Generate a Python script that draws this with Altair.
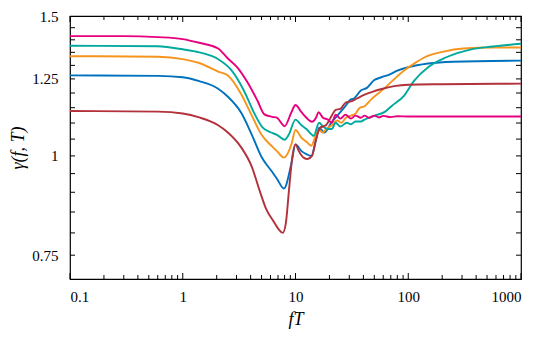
import altair as alt
import pandas as pd

# ---- data (fT, gamma) ----
fT_magenta = [0.1, 0.3, 0.6, 1.0, 1.4, 2.06, 2.5, 3.07, 3.75, 4.58, 5.3, 6.2, 6.84, 7.56, 8.0,
              9.2, 10, 11.3, 12.5, 14, 15.2, 16, 17.5, 19.4, 21, 22.7, 25, 27.8, 31, 34, 38,
              41, 45, 50, 55, 60, 70, 80, 100, 150, 300, 1000]
g_magenta = [1.415, 1.415, 1.411, 1.403, 1.388, 1.365, 1.327, 1.291, 1.238, 1.175, 1.128, 1.12,
             1.117, 1.098, 1.09, 1.135, 1.159, 1.135, 1.117, 1.104, 1.117, 1.135, 1.117, 1.111,
             1.101, 1.127, 1.114, 1.127, 1.114, 1.124, 1.117, 1.124, 1.117, 1.124, 1.118, 1.123,
             1.119, 1.122, 1.121, 1.121, 1.121, 1.121]

fT_teal = [0.1, 0.6, 1.0, 1.4, 2.0, 2.7, 3.5, 4.3, 5.1, 6.0, 6.84, 8.0, 8.7, 10, 11.3, 12.5,
           14, 14.5, 16.2, 17.5, 19.4, 21, 22.7, 25, 28.5, 31, 34, 38, 41, 50.6, 62, 71, 92,
           112, 151, 215, 355, 560, 1000]
g_teal = [1.376, 1.374, 1.362, 1.35, 1.327, 1.282, 1.207, 1.132, 1.086, 1.071, 1.063, 1.048,
          1.063, 1.111, 1.093, 1.081, 1.063, 1.06, 1.101, 1.089, 1.081, 1.081, 1.101, 1.089,
          1.101, 1.096, 1.105, 1.105, 1.111, 1.124, 1.136, 1.155, 1.191, 1.242, 1.294, 1.33,
          1.361, 1.373, 1.384]

fT_orange = [0.1, 0.6, 1.0, 1.4, 2.06, 2.5, 3.3, 4.1, 5.0, 6.2, 6.84, 7.9, 9.2, 10, 11.3, 12.5,
             13.8, 15.2, 16.2, 17.5, 18.6, 21, 23.5, 25.5, 28, 31, 33.9, 37, 41, 47, 54, 62, 75,
             92, 112, 140, 206, 307, 560, 1000]
g_orange = [1.335, 1.333, 1.324, 1.309, 1.277, 1.263, 1.196, 1.124, 1.063, 1.028, 1.014, 0.995,
            1.034, 1.078, 1.054, 1.042, 1.030, 1.063, 1.078, 1.070, 1.080, 1.093, 1.108, 1.101,
            1.117, 1.124, 1.130, 1.149, 1.155, 1.178, 1.198, 1.218, 1.249, 1.281, 1.306, 1.331,
            1.353, 1.365, 1.369, 1.369]

fT_blue = [0.1, 0.6, 1.0, 1.4, 2.06, 2.5, 3.3, 4.1, 5.0, 6.2, 6.84, 7.9, 9.2, 10, 11.3, 12.5,
           13.8, 15.2, 16.2, 18, 21, 23.5, 28, 31, 33, 38, 43, 50, 58, 68, 80, 100, 150, 250, 1000]
g_blue = [1.263, 1.261, 1.256, 1.242, 1.215, 1.188, 1.133, 1.063, 0.997, 0.955, 0.936, 0.910,
          0.979, 1.034, 1.014, 1.005, 1.0, 1.048, 1.085, 1.07, 1.104, 1.124, 1.158, 1.178, 1.181,
          1.209, 1.218, 1.246, 1.256, 1.266, 1.28, 1.293, 1.307, 1.314, 1.318]

fT_red = [0.1, 0.6, 1.0, 1.4, 2.06, 2.5, 3.3, 4.1, 4.8, 5.5, 6.4, 7.1, 7.7, 8.2, 8.8, 9.4, 10,
          10.7, 11.8, 12.8, 14, 15.2, 16.5, 18.6, 21, 22.7, 25, 28, 31, 35, 41, 48, 58, 75, 100,
          200, 1000]
g_red = [1.139, 1.137, 1.131, 1.118, 1.093, 1.071, 1.025, 0.969, 0.905, 0.857, 0.827, 0.808,
         0.80, 0.822, 0.913, 1.0, 1.034, 1.014, 0.995, 0.991, 1.0, 1.048, 1.085, 1.093, 1.124,
         1.143, 1.146, 1.168, 1.171, 1.181, 1.194, 1.204, 1.214, 1.224, 1.229, 1.231, 1.233]

series_names = ["blue", "orange", "teal", "red", "magenta"]
series_colors = ["#0072bd", "#f7941d", "#00a99d", "#b2313b", "#e6007e"]
series_data = {
    "blue": (fT_blue, g_blue),
    "orange": (fT_orange, g_orange),
    "teal": (fT_teal, g_teal),
    "red": (fT_red, g_red),
    "magenta": (fT_magenta, g_magenta),
}

x_labels = [0.1, 1, 10, 100, 1000]
y_labels = [0.75, 1, 1.25, 1.5]

rows = []
for name in series_names:
    xs, ys = series_data[name]
    for i, (x, y) in enumerate(zip(xs, ys)):
        rows.append({"series": name, "fT": x, "gamma": y, "i": i})
df = pd.DataFrame(rows)

W, H = 451, 263
FONT = "Liberation Serif"

xscale = alt.Scale(type="log", domain=[0.1, 1000], nice=False)
yscale = alt.Scale(type="log", domain=[0.7, 1.5], nice=False, zero=False)

x_axis = alt.Axis(values=x_labels, format="~g", ticks=False, domain=False, grid=False,
                  labelFont=FONT, labelFontSize=15, labelColor="black", labelPadding=10,
                  title="fT", titleFont=FONT, titleFontSize=18, titleFontStyle="italic",
                  titleFontWeight="normal", titleColor="black", titlePadding=6)
y_axis = alt.Axis(values=y_labels, format="~g", ticks=False, domain=False, grid=False,
                  labelFont=FONT, labelFontSize=15, labelColor="black", labelPadding=12,
                  title="γ(f, T)", titleFont=FONT, titleFontSize=18,
                  titleFontStyle="italic", titleFontWeight="normal", titleColor="black",
                  titlePadding=4)

lines = alt.Chart(df).mark_line(strokeWidth=1.9, interpolate="monotone").encode(
    x=alt.X("fT:Q", scale=xscale, axis=x_axis),
    y=alt.Y("gamma:Q", scale=yscale, axis=y_axis),
    color=alt.Color("series:N", scale=alt.Scale(domain=series_names, range=series_colors),
                    legend=None),
    detail="series:N",
    order="i:Q",
)

x_major = [0.1, 1, 10, 100, 1000]
x_minor = [m * 10 ** e for e in range(-1, 3) for m in range(2, 10)]
y_ticks = [0.75, 0.8, 0.85, 0.9, 0.95, 1.0, 1.05, 1.1, 1.15, 1.2, 1.25, 1.3, 1.35, 1.4, 1.45]


def xticks(vals, length):
    d = pd.DataFrame({"v": vals})
    base = alt.Chart(d).mark_rule(color="black", strokeWidth=1)
    bottom = base.encode(x=alt.X("v:Q", scale=xscale, axis=x_axis),
                         y=alt.value(H), y2=alt.value(H - length))
    top = base.encode(x=alt.X("v:Q", scale=xscale, axis=x_axis),
                      y=alt.value(0), y2=alt.value(length))
    return [bottom, top]


def yticks(vals, length):
    d = pd.DataFrame({"v": vals})
    base = alt.Chart(d).mark_rule(color="black", strokeWidth=1)
    left = base.encode(y=alt.Y("v:Q", scale=yscale, axis=y_axis),
                       x=alt.value(0), x2=alt.value(length))
    right = base.encode(y=alt.Y("v:Q", scale=yscale, axis=y_axis),
                        x=alt.value(W), x2=alt.value(W - length))
    return [left, right]


layers = [lines] + xticks(x_minor, 4) + xticks(x_major, 6) + yticks(y_ticks, 5)

chart = alt.layer(*layers).properties(
    width=W, height=H,
    autosize=alt.AutoSizeParams(type="none"),
    padding={"left": 62, "top": 8, "right": 16, "bottom": 50},
).configure_view(stroke="black", strokeWidth=1.2)

chart.save("out.html", embed_options={"renderer": "svg", "actions": False})
